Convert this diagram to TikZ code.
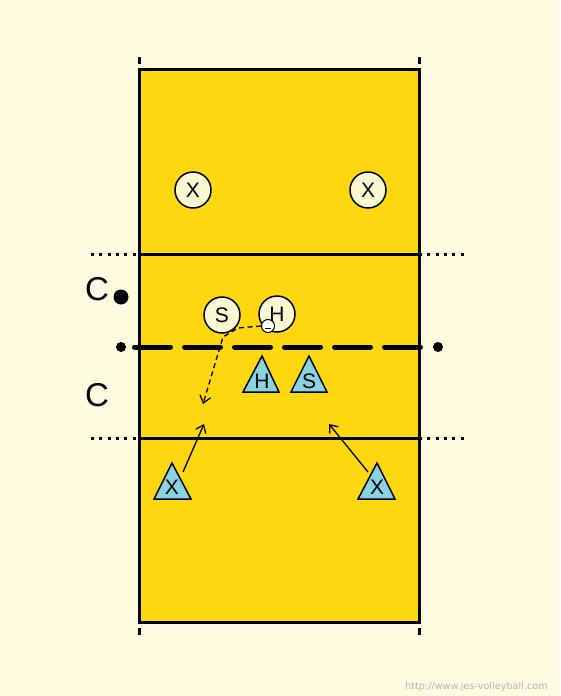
\documentclass[tikz,border=0pt]{standalone}
\usepackage{fontspec}
\setmainfont{Liberation Sans}
\newfontfamily\urlfont{DejaVu Sans}
\usetikzlibrary{arrows.meta}
\definecolor{bgcream}{RGB}{255,251,224}
\definecolor{courtyel}{RGB}{255,215,16}
\definecolor{plyfill}{RGB}{250,250,210}
\definecolor{trifill}{RGB}{138,212,226}
\definecolor{urlgray}{RGB}{180,180,170}
\begin{document}
\begin{tikzpicture}[x=1pt,y=-1pt,
  >={Straight Barb[length=7pt,width=11pt]},
  court/.style={line width=3pt},
  dotline/.style={line width=3pt,dash pattern=on 3pt off 5.3pt},
  ply/.style={circle,draw,line width=1.5pt,fill=plyfill,minimum size=36pt,inner sep=0pt,font=\fontsize{21}{21}\selectfont},
  tri/.style={draw,line width=1.5pt,fill=trifill,line join=miter},
  trilab/.style={inner sep=0pt,font=\fontsize{21}{21}\selectfont},
  clab/.style={inner sep=0pt,font=\fontsize{33}{33}\selectfont},
  move/.style={->,line width=1.3pt},
  pass/.style={->,line width=1.3pt,dash pattern=on 5pt off 3.5pt}]
  % 背景
  \fill[bgcream] (0,0) rectangle (560,696);
  % 场地
  \filldraw[court,fill=courtyel] (139,69) rectangle (419,622);
  \draw[court] (139,254) -- (419,254);
  \draw[court] (139,438) -- (419,438);
  % 进攻线延长（虚点）
  \draw[dotline] (91,254) -- (139,254);
  \draw[dotline] (419,254) -- (467,254);
  \draw[dotline] (91,438) -- (139,438);
  \draw[dotline] (419,438) -- (467,438);
  % 端线标记
  \draw[court] (139,57) -- (139,64);
  \draw[court] (419,57) -- (419,64);
  \draw[court] (139,628) -- (139,635);
  \draw[court] (419,628) -- (419,635);
  % 球网
  \draw[line width=5pt,line cap=round,dash pattern=on 36pt off 14pt] (134.5,347) -- (423,347);
  \fill (121,347) circle (5);
  \fill (438,347) circle (5);
  % 教练 C
  \node[clab] (ca) at (97,289) {C};
  \fill (121,297) circle (7.5);
  \node[clab] (cb) at (97,395) {C};
  % 对方球员（圆）
  \node[ply] (xa) at (193,190) {X};
  \node[ply] (xb) at (368,190) {X};
  \node[ply] (sa) at (222,315) {S};
  \node[ply] (ha) at (277,314) {H};
  % 球
  \node[circle,draw,line width=1pt,fill=white,minimum size=13pt,inner sep=0pt] (ball) at (268,326) {};
  \draw[line width=1pt] (265,328) -- (271,328);
  % 本方球员（三角）
  \draw[tri] (262,356) -- (279,392) -- (243,392) -- cycle;
  \node[trilab] (hb) at (262,381) {H};
  \draw[tri] (309,356) -- (327,392) -- (291,392) -- cycle;
  \node[trilab] (sb) at (309,381) {S};
  \draw[tri] (172,463) -- (191,499) -- (154,499) -- cycle;
  \node[trilab] (xc) at (172,487) {X};
  \draw[tri] (377,463) -- (395,499) -- (358,499) -- cycle;
  \node[trilab] (xd) at (377,487) {X};
  % 跑动与传球
  \coordinate (xcto) at (204,424);
  \coordinate (xdto) at (329,424);
  \coordinate (balto) at (203,404);
  \draw[move] ([shift={(11pt,15pt)}]xc.center) -- (xcto);
  \draw[move] ([shift={(-9pt,15pt)}]xd.center) -- (xdto);
  \draw[pass] (ball.west) -- (238,328) -- (223,337) -- (balto);
  % 网址
  \node[anchor=south east,inner sep=0pt,text=urlgray,font=\urlfont\fontsize{9.7}{9.7}\selectfont] (url) at (548,692) {http://www.jes-volleyball.com};
\end{tikzpicture}
\end{document}
